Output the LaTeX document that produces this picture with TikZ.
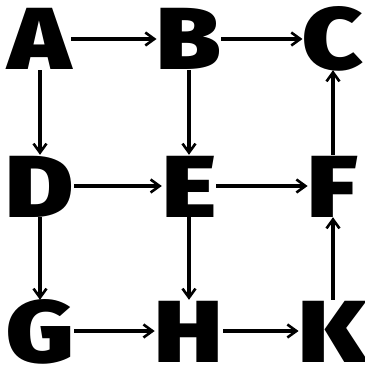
\documentclass[tikz,border=0pt]{standalone}
\usepackage{fontspec}
\setmainfont{Fira Sans Black}[FakeStretch=1.18]
\usetikzlibrary{positioning, arrows.meta}

\begin{document}
\begin{tikzpicture}[x=1pt, y=-1pt,
        every node/.style={inner sep=0pt, font=\fontsize{88}{88}\selectfont, text height=62pt, text depth=0pt},
        edge/.style={line width=3.2pt, -{Straight Barb[length=9pt, width=13pt, line width=2.6pt]}}]
        \useasboundingbox (0,0) rectangle (364,369);

        \node (A) at (40,39) {A};
        \node (B) at (189,39) {B};
        \node (C) at (333,39) {C};

        \node (D) at (40,186) {D};
        \node (E) at (189,186) {E};
        \node (F) at (333,186) {F};

        \node (G) at (40,331) {G};
        \node (H) at (189,331) {H};
        \node (K) at (333,331) {K};

        % Rows
        \draw[edge] (A) -- (B);
        \draw[edge] (B) -- (C);
        \draw[edge] (D) -- (E);
        \draw[edge] (E) -- (F);
        \draw[edge] (G) -- (H);
        \draw[edge] (H) -- (K);

        % Columns
        \draw[edge] (A) -- (D);
        \draw[edge] (B) -- (E);
        \draw[edge] (D) -- (G);
        \draw[edge] (E) -- (H);
        \draw[edge] (F) -- (C);
        \draw[edge] (K) -- (F);
\end{tikzpicture}
\end{document}
